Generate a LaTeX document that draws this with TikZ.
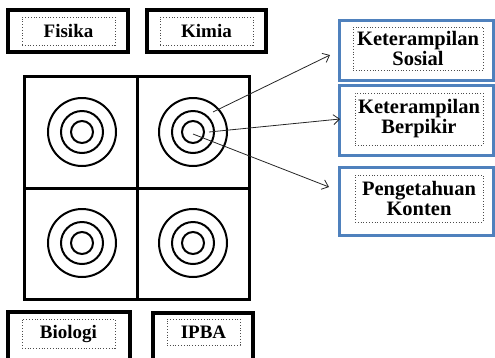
\documentclass[tikz,border=0pt]{standalone}
\usepackage{fontspec}
\setmainfont{Liberation Serif}
\usetikzlibrary{arrows.meta}
\definecolor{boxblue}{RGB}{79,129,189}
\tikzset{
  subjbox/.style={draw=black, line width=3.4pt, minimum width=#1, inner sep=0pt},
  aspbox/.style={draw=boxblue, line width=3pt, minimum width=154pt, inner sep=0pt},
  dotbox/.style={draw=black!70, dotted, line width=0.8pt, inner sep=0pt, align=center,
    font=\bfseries\fontsize{19}{20}\selectfont},
  aspdot/.style={dotbox, font=\bfseries\fontsize{20.5}{20}\selectfont},
  ring/.style={draw=black, line width=2pt},
  pointer/.style={draw=black!85, line width=0.8pt, -{Straight Barb[length=6pt,width=10pt,line width=0.8pt]}}
}
\begin{document}
\begin{tikzpicture}[x=1pt,y=-1pt]
\useasboundingbox (0,0) rectangle (495,357);
\clip (0,0) rectangle (495,357);

% subject boxes
\node[subjbox=120pt, minimum height=42pt] (fisikaBox) at (68,31) {};
\node[dotbox, minimum width=93pt, minimum height=28pt] (fisika) at (68.5,31) {Fisika};
\node[subjbox=119pt, minimum height=42pt] (kimiaBox) at (206.5,31) {};
\node[dotbox, minimum width=93pt, minimum height=28pt] (kimia) at (206.5,31) {Kimia};
\node[subjbox=122pt, minimum height=60pt] (biologiBox) at (69,342) {};
\node[dotbox, minimum width=93pt, minimum height=29pt] (biologi) at (68.5,333.5) {Biologi};
\node[subjbox=100pt, minimum height=60pt] (ipbaBox) at (203,343) {};
\node[dotbox, minimum width=73pt, minimum height=26pt] (ipba) at (203.5,332) {IPBA};

% 2x2 grid
\draw[line width=3pt] (24,76) rectangle (249,299);
\draw[line width=3pt] (137,76) -- (137,299);
\draw[line width=3pt] (24,188) -- (249,188);

% concentric targets
\foreach \cx/\cy/\nm in {82/132/tl, 193/132/tr, 82/243/bl, 193/243/br}{
  \draw[ring] (\cx,\cy) circle[radius=34pt];
  \draw[ring] (\cx,\cy) circle[radius=21pt];
  \draw[ring] (\cx,\cy) circle[radius=11pt];
}

% aspect boxes
\node[aspbox, minimum height=60pt] (sosialBox) at (416,50) {};
\node[aspdot, minimum width=130pt, minimum height=43pt] (sosial) at (418,48.5) {Keterampilan\\Sosial};
\node[aspbox, minimum height=70pt] (berpikirBox) at (416,120) {};
\node[aspdot, minimum width=128pt, minimum height=52pt] (berpikir) at (419,119) {Keterampilan\\Berpikir};
\node[aspbox, minimum height=68pt] (kontenBox) at (416.5,201) {};
\node[aspdot, minimum width=128pt, minimum height=47pt] (konten) at (419,198.5) {Pengetahuan\\Konten};

% pointers from the target rings
\coordinate (s1) at (213,112);
\coordinate (s2) at (209,132);
\coordinate (s3) at (193,134);
\coordinate (t1) at (330,55);
\coordinate (t2) at (340,119);
\coordinate (t3) at (329,187);
\draw[pointer] (s1) -- (t1);
\draw[pointer] (s2) -- (t2);
\draw[pointer] (s3) -- (t3);
\end{tikzpicture}
\end{document}
